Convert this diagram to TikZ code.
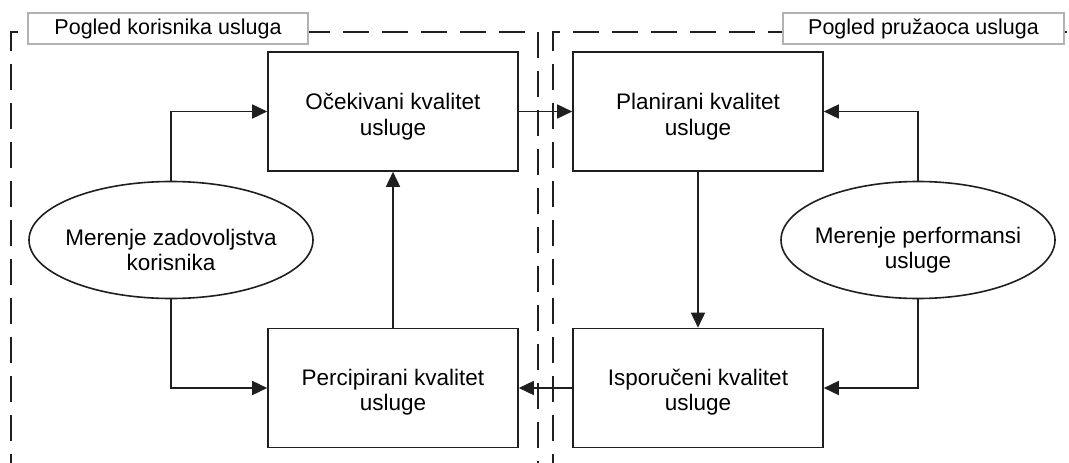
\documentclass[tikz,border=0pt]{standalone}
\usepackage{fontspec}
\setmainfont{Liberation Sans}
\usetikzlibrary{arrows.meta,shapes.geometric}
\begin{document}
\begin{tikzpicture}[x=1pt,y=-1pt,
  ln/.style={draw=black!88,line width=1.6pt},
  arr/.style={ln,-{Triangle[length=15pt,width=14pt]}},
  region/.style={draw=black!88,line width=1.6pt,dash pattern=on 26pt off 13pt},
  qbox/.style={ln,rectangle,minimum width=250pt,minimum height=119pt,inner sep=0pt},
  ell/.style={ln,ellipse,minimum width=284pt,minimum height=117pt,inner sep=0pt},
  txt/.style={inner sep=0pt,align=center,font=\fontsize{22.5}{25.5}\selectfont},
  tag/.style={draw=black!30,line width=1.5pt,fill=white,rectangle,inner sep=0pt,minimum height=31pt,font=\fontsize{21.5}{24}\selectfont}]
\useasboundingbox (0,0) rectangle (1069,463);
\fill[white] (0,0) rectangle (1069,463);
% regions
\draw[region] (11,480) -- (11,32) -- (538,32) -- (538,480);
\draw[region] (553,480) -- (553,32) -- (1090,32);
\node[tag,minimum width=280pt] (tl) at (168,28.5) {Pogled korisnika usluga};
\node[tag,minimum width=281pt] (tr) at (923.5,28.5) {Pogled pružaoca usluga};
% boxes
\node[qbox] (ocek) at (393,111.5) {};
\node[qbox] (plan) at (698,111.5) {};
\node[qbox] (perc) at (393,388) {};
\node[qbox] (ispo) at (698,388) {};
\node[txt] (ocekT) at ([yshift=-5pt]ocek.center) {Očekivani kvalitet\\usluge};
\node[txt] (planT) at ([yshift=-5pt]plan.center) {Planirani kvalitet\\usluge};
\node[txt] (percT) at ([yshift=-4pt]perc.center) {Percipirani kvalitet\\usluge};
\node[txt] (ispoT) at ([yshift=-4pt]ispo.center) {Isporučeni kvalitet\\usluge};
% ellipses
\node[ell] (mz) at (171,240) {};
\node[ell,minimum width=274pt] (mp) at (918,240) {};
\node[txt] (mzT) at ([yshift=-10pt]mz.center) {Merenje zadovoljstva\\korisnika};
\node[txt] (mpT) at ([yshift=-10pt]mp.center) {Merenje performansi\\usluge};
% connectors
\draw[arr] (ocek.east) -- (plan.west);
\draw[arr] (ispo.west) -- (perc.east);
\draw[arr] (perc.north) -- (ocek.south);
\draw[arr] (plan.south) -- (ispo.north);
\draw[arr] (mz.north) |- (ocek.west);
\draw[arr] (mz.south) |- (perc.west);
\draw[arr] (mp.north) |- (plan.east);
\draw[arr] (mp.south) |- (ispo.east);
\end{tikzpicture}
\end{document}
